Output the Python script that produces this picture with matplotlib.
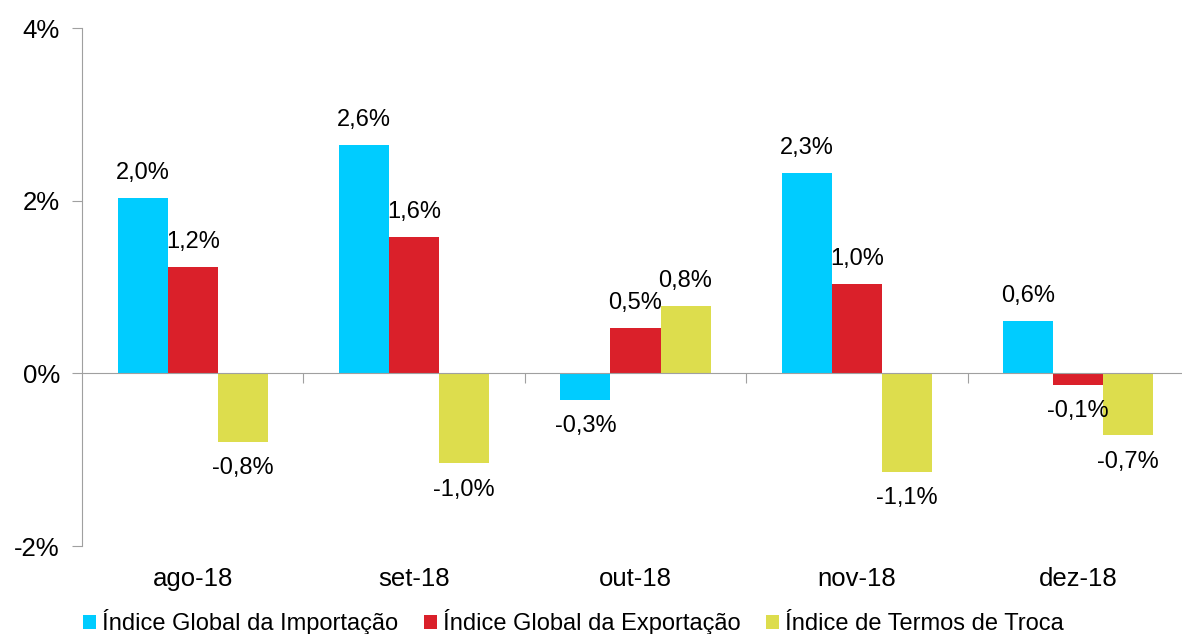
import numpy as np
import matplotlib.pyplot as plt
from matplotlib.patches import Patch

categories = ['ago-18', 'set-18', 'out-18', 'nov-18', 'dez-18']
importacao = [2.03, 2.64, -0.31, 2.32, 0.61]
exportacao = [1.23, 1.58, 0.52, 1.03, -0.13]
troca = [-0.79, -1.04, 0.78, -1.14, -0.72]
series_names = ['Índice Global da Importação', 'Índice Global da Exportação',
                'Índice de Termos de Troca']
colors = ['#00CCFF', '#DA202A', '#DDDD4D']

plt.rcParams['font.family'] = ['Liberation Sans', 'DejaVu Sans']

fig = plt.figure(figsize=(11.82, 6.34), dpi=100)
ax = fig.add_axes([82/1182, 88/634, 1107/1182, 518/634])

x = np.arange(len(categories))
w = 0.226
for k, (vals, c) in enumerate(zip([importacao, exportacao, troca], colors)):
    pos = x + (k - 1) * w
    ax.bar(pos, vals, width=w, color=c, zorder=2)
    for xi, v in zip(pos, vals):
        lab = f"{v:.1f}".replace('.', ',') + '%'
        off = 18 if v >= 0 else -19
        ax.annotate(lab, (xi, v), xytext=(0, off), textcoords='offset points',
                    ha='center', va='center', fontsize=17, color='black')

ax.set_xlim(-0.5, len(categories) - 0.5)
ax.set_ylim(-2, 4)
ax.set_yticks([-2, 0, 2, 4])
ax.set_yticklabels(['-2%', '0%', '2%', '4%'], fontsize=18.5)
ax.tick_params(axis='y', length=7, color='#A0A0A0', pad=9)

ax.spines['top'].set_visible(False)
ax.spines['right'].set_visible(False)
ax.spines['left'].set_color('#A0A0A0')
ax.spines['bottom'].set_position(('data', 0))
ax.spines['bottom'].set_color('#A0A0A0')
ax.spines['bottom'].set_zorder(3)
ax.set_xticks(x[:-1] + 0.5)
ax.set_xticklabels([])
ax.tick_params(axis='x', length=7, color='#A0A0A0')

for xi, cat in zip(x, categories):
    ax.text(xi, -2.38, cat, ha='center', va='center', fontsize=18.5, clip_on=False)

handles = [Patch(facecolor=c, edgecolor='none') for c in colors]
fig.legend(handles, series_names, loc='center left', bbox_to_anchor=(83/1182, 12/634),
           ncol=3, frameon=False, fontsize=17, handlelength=0.55, handleheight=0.55,
           handletextpad=0.25, columnspacing=1.1, borderaxespad=0, borderpad=0)

fig.savefig('out.png', dpi=100)
